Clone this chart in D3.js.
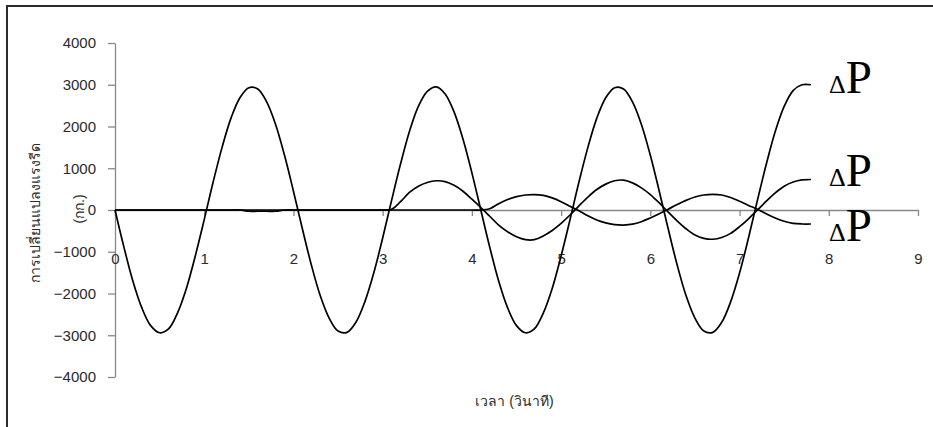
<!DOCTYPE html>
<html>
<head>
<meta charset="utf-8">
<script src="https://cdn.jsdelivr.net/npm/d3@7"></script>
<style>
  html, body { margin: 0; padding: 0; background: #fff; }
  svg { display: block; }
  .tick text { font-family: "Liberation Sans", Arial, sans-serif; font-size: 15px; fill: #2a2a2a; }
  .ttl { font-family: "Liberation Sans", "Noto Sans", "DejaVu Sans", sans-serif; font-size: 14px; fill: #2a2a2a; }
  .dp { font-family: "Liberation Serif", "Times New Roman", serif; fill: #000; }
</style>
</head>
<body>
<script>
// time (s)
const time = [
  0.0, 0.1, 0.2, 0.3, 0.4, 0.5, 0.6, 0.7, 0.8, 0.9,
  1.0, 1.1, 1.2, 1.3, 1.4, 1.5, 1.6, 1.7, 1.8, 1.9,
  2.0, 2.1, 2.2, 2.3, 2.4, 2.5, 2.6, 2.7, 2.8, 2.9,
  3.0, 3.1, 3.2, 3.3, 3.4, 3.5, 3.6, 3.7, 3.8, 3.9,
  4.0, 4.1, 4.2, 4.3, 4.4, 4.5, 4.6, 4.7, 4.8, 4.9,
  5.0, 5.1, 5.2, 5.3, 5.4, 5.5, 5.6, 5.7, 5.8, 5.9,
  6.0, 6.1, 6.2, 6.3, 6.4, 6.5, 6.6, 6.7, 6.8, 6.9,
  7.0, 7.1, 7.2, 7.3, 7.4, 7.5, 7.6, 7.7, 7.8
];

// change of rolling force, stand 1
const deltaP1 = [
  0, -890, -1700, -2340, -2770, -2940, -2850, -2470, -1880, -1100,
  -230, 670, 1500, 2200, 2690, 2930, 2900, 2590, 2050, 1310,
  450, -450, -1310, -2050, -2590, -2900, -2930, -2690, -2200, -1510,
  -670, 230, 1100, 1880, 2480, 2840, 2950, 2780, 2350, 1700,
  890, 0, -890, -1700, -2340, -2770, -2940, -2850, -2470, -1880,
  -1100, -230, 670, 1500, 2200, 2690, 2930, 2900, 2590, 2050,
  1310, 450, -450, -1310, -2050, -2590, -2900, -2930, -2690, -2200,
  -1510, -670, 230, 1100, 1880, 2480, 2860, 3000, 3000
];

// change of rolling force, stand 2
const deltaP2 = [
  0, 0, 0, 0, 0, 0, 0, 0, 0, 0,
  0, 0, 0, 0, 0, 0, 0, 0, 0, 0,
  0, 0, 0, 0, 0, 0, 0, 0, 0, 0,
  0, 20, 200, 420, 570, 660, 700, 680, 590, 450,
  260, 60, -150, -360, -520, -640, -710, -710, -620, -490,
  -320, -120, 100, 310, 490, 620, 700, 715, 650, 530,
  370, 170, -50, -260, -450, -600, -680, -700, -660, -560,
  -400, -210, 0, 210, 410, 570, 670, 720, 730
];

// change of rolling force, stand 3
const deltaP3 = [
  0, 0, 0, 0, 0, 0, 0, 0, 0, 0,
  0, 0, 0, 0, 0, -30, -30, -30, -30, 0,
  0, 0, 0, 0, 0, 0, 0, 0, 0, 0,
  0, 0, 0, 0, 0, 0, 0, 0, 0, 0,
  0, 0, 30, 150, 250, 320, 360, 370, 350, 290,
  200, 90, -20, -140, -240, -310, -350, -360, -340, -280,
  -190, -90, 20, 130, 230, 310, 360, 375, 360, 300,
  210, 110, 20, -90, -190, -270, -320, -335, -335
];

const xTicks = [0, 1, 2, 3, 4, 5, 6, 7, 8, 9];
const yTicks = [-4000, -3000, -2000, -1000, 0, 1000, 2000, 3000, 4000];

const W = 933, H = 427;
const svg = d3.select("body").append("svg").attr("width", W).attr("height", H);

// chart frame
svg.append("rect")
  .attr("x", 7).attr("y", 6).attr("width", 1000).attr("height", 1000)
  .attr("fill", "#fff").attr("stroke", "#2a2a2a").attr("stroke-width", 2);

const x = d3.scaleLinear().domain([0, 9]).range([115, 918]);
const y = d3.scaleLinear().domain([-4000, 4000]).range([377, 43]);

const axisColor = "#888";

// y axis
const gy = svg.append("g")
  .attr("transform", `translate(${x(0)},0)`)
  .call(d3.axisLeft(y).tickValues(yTicks).tickFormat(d3.format("d"))
    .tickSize(7).tickSizeOuter(0).tickPadding(12));
gy.select(".domain").attr("stroke", axisColor).attr("stroke-width", 1.3);
gy.selectAll(".tick line").attr("stroke", axisColor).attr("stroke-width", 1.3);

// x axis crossing at zero, labels set below
const gx = svg.append("g")
  .attr("transform", `translate(0,${y(0)})`)
  .call(d3.axisBottom(x).tickValues(xTicks).tickFormat(d3.format("d"))
    .tickSize(6).tickSizeOuter(0).tickPadding(37));
gx.select(".domain").attr("stroke", axisColor).attr("stroke-width", 1.3);
gx.selectAll(".tick line").attr("stroke", axisColor).attr("stroke-width", 1.3);

// series
const line = d3.line()
  .x((d, i) => x(time[i]))
  .y(d => y(d))
  .curve(d3.curveCatmullRom.alpha(0.5));

[deltaP3, deltaP2, deltaP1].forEach(s => {
  svg.append("path")
    .datum(s)
    .attr("d", line)
    .attr("fill", "none")
    .attr("stroke", "#000")
    .attr("stroke-width", 1.7)
    .attr("stroke-linejoin", "round");
});

// axis titles
svg.append("text").attr("class", "ttl")
  .attr("transform", `translate(35,${y(0) + 3}) rotate(-90)`)
  .attr("text-anchor", "middle").attr("dominant-baseline", "central")
  .text("การเปลี่ยนแปลงแรงรีด");
svg.append("text").attr("class", "ttl")
  .attr("transform", `translate(79,${y(0) - 1}) rotate(-90)`)
  .attr("text-anchor", "middle").attr("dominant-baseline", "central")
  .text("(กก.)");
svg.append("text").attr("class", "ttl")
  .attr("x", (x(0) + x(9)) / 2 - 2).attr("y", 406)
  .attr("text-anchor", "middle")
  .text("เวลา (วินาที)");

// series labels
const labelY = [93, 186, 241];
labelY.forEach(by => {
  const t = svg.append("text").attr("class", "dp").attr("x", 829).attr("y", by);
  t.append("tspan").attr("font-size", 26).text("Δ");
  t.append("tspan").attr("font-size", 47).text("P");
});
</script>
</body>
</html>
